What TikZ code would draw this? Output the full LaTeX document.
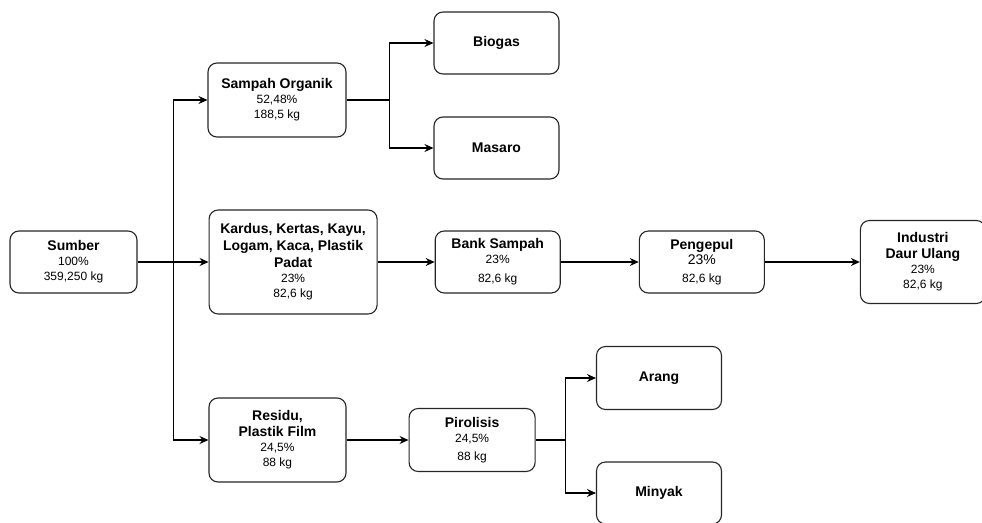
\documentclass[tikz,border=0pt]{standalone}
\usepackage{fontspec}
\setmainfont{Liberation Sans}
\usetikzlibrary{positioning, arrows.meta, calc}
\newcommand{\boxtitle}[1]{{\fontsize{14}{17}\selectfont\bfseries #1}}

\begin{document}
\begin{tikzpicture}[
    x=1pt, y=-1pt,
    node distance=60pt,
    box/.style={rectangle, rounded corners=9pt, draw=black!85, line width=1.1pt, fill=white,
                minimum width=125pt, minimum height=62pt, align=center, inner sep=2pt,
                font=\fontsize{12}{15}\selectfont},
    arrow/.style={-{Stealth[length=9pt, width=8pt, inset=3pt]}, line width=1.1pt},
    link/.style={line width=1.1pt}
  ]
    \useasboundingbox (0,0) rectangle (982,522);
    \node[box, minimum width=127pt] (sumber) at (73.5,262) {\boxtitle{Sumber}\\100\%\\359,250 kg};
    \node[box, minimum width=168pt, minimum height=104pt, right=71pt of sumber] (kardus) {\boxtitle{Kardus, Kertas, Kayu,}\\[2pt]\boxtitle{Logam, Kaca, Plastik}\\[2pt]\boxtitle{Padat}\\23\%\\82,6 kg};
    \node[box, right=57pt of kardus] (bank) {\boxtitle{Bank Sampah}\\23\%\\[4pt]82,6 kg};
    \node[box, right=78pt of bank] (pengepul) {\boxtitle{Pengepul}\\{\fontsize{14}{17}\selectfont 23\%}\\[3pt]82,6 kg};
    \node[box, minimum height=83pt, right=95pt of pengepul] (industri) {\boxtitle{Industri}\\[1pt]\boxtitle{Daur Ulang}\\23\%\\82,6 kg};
    \node[box, minimum width=138pt, minimum height=74pt] (organik) at (277,100) {\boxtitle{Sampah Organik}\\52,48\%\\188,5 kg};
    \node[box] (biogas) at (496.5,43) {\boxtitle{Biogas}};
    \node[box] (masaro) at (496.5,148) {\boxtitle{Masaro}};
    \node[box, minimum width=137pt, minimum height=84pt] (residu) at (277.5,440) {\boxtitle{Residu,}\\[1pt]\boxtitle{Plastik Film}\\24,5\%\\88 kg};
    \node[box, minimum width=126pt, minimum height=63pt, right=62pt of residu] (pirolisis) {\boxtitle{Pirolisis}\\24,5\%\\[3pt]88 kg};
    \node[box, minimum height=63pt] (arang) at (659,378) {\boxtitle{Arang}};
    \node[box] (minyak) at (659,493) {\boxtitle{Minyak}};
    \coordinate (split) at ($(sumber.east)!0.5!(kardus.west)$);
    \coordinate (fork1) at ($(organik.east)+(43,0)$);
    \coordinate (fork2) at ($(pirolisis.east)+(30,0)$);
    \draw[arrow] (sumber) -- (kardus);
    \draw[arrow] (split) |- (organik);
    \draw[arrow] (split) |- (residu);
    \draw[link] (organik) -- (fork1);
    \draw[arrow] (fork1) |- (biogas);
    \draw[arrow] (fork1) |- (masaro);
    \draw[arrow] (kardus) -- (bank);
    \draw[arrow] (bank) -- (pengepul);
    \draw[arrow] (pengepul) -- (industri);
    \draw[arrow] (residu) -- (pirolisis);
    \draw[link] (pirolisis) -- (fork2);
    \draw[arrow] (fork2) |- (arang);
    \draw[arrow] (fork2) |- (minyak);
\end{tikzpicture}
\end{document}
